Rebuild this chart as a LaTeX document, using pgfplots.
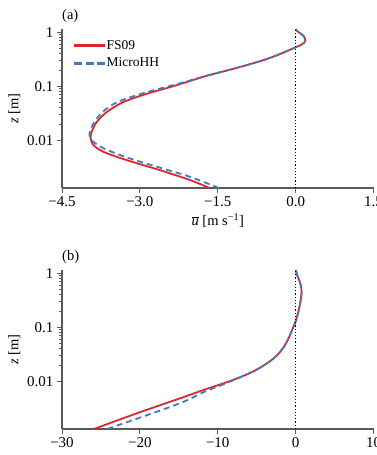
\documentclass[border=0pt]{standalone}
\usepackage{pgfplots}
\pgfplotsset{compat=1.18}
\usepackage{fontspec}
\setmainfont{Liberation Serif}

\definecolor{fsred}{RGB}{222,38,44}
\definecolor{mhblue}{RGB}{66,122,190}
\definecolor{spine}{RGB}{90,90,90}

\newcommand{\lbl}{\fontsize{14.5}{17}\selectfont}
\newcommand{\tck}{\fontsize{15}{17}\selectfont}
\newcommand{\leg}{\fontsize{13.5}{16}\selectfont}

\begin{document}
\begin{tikzpicture}

% (a) mean streamwise velocity
\begin{axis}[
  scale only axis, width=311.5pt, height=159pt,
  at={(62pt,267pt)}, anchor=south west,
  ymode=log, ymin=0.0013, ymax=1.16,
  xmin=-4.5, xmax=1.5,
  axis x line*=bottom, axis y line*=left,
  axis line style={draw=spine, line width=1.3pt},
  tick style={draw=spine, line width=0.9pt},
  tick align=outside,
  major tick length=5pt, minor tick length=3pt,
  ytick={0.01,0.1,1}, yticklabels={0.01,0.1,1},
  xtick={-4.5,-3,-1.5,0,1.5},
  xticklabels={−4.5,−3.0,−1.5,0.0,1.5},
  tick label style={font=\tck},
  label style={font=\lbl},
  ylabel={\textit{z} [m]},
  xlabel={$\overline{\mbox{\textit{u}}}$ [m s\textsuperscript{−1}]},
  clip=false,
  legend style={at={(0,1)}, anchor=north west, xshift=9pt, yshift=-7pt,
    draw=none, fill=none, font=\leg, legend cell align=left,
    row sep=3pt},
]
\addlegendimage{legend image code/.code={\fill[fsred] (0pt,-0.9pt) rectangle (30pt,0.9pt);}}
\addlegendentry{FS09}
\addlegendimage{legend image code/.code={\fill[mhblue] (0pt,-0.9pt) rectangle (7pt,0.9pt)
  (11.5pt,-0.9pt) rectangle (18.5pt,0.9pt) (23pt,-0.9pt) rectangle (30pt,0.9pt);}}
\addlegendentry{MicroHH}
\addplot[fsred, line width=1.8pt, smooth, tension=0.5, forget plot] coordinates {
  (-1.66,0.0013) (-2.03,0.00182) (-2.61,0.00278) (-3.25,0.00427)
  (-3.70,0.00608) (-3.895,0.00813) (-3.946,0.01072) (-3.93,0.01426)
  (-3.83,0.02188) (-3.637,0.03342) (-3.316,0.05129) (-2.864,0.07311)
  (-2.414,0.09705) (-2.10,0.1202) (-1.70,0.1585) (-1.30,0.1995)
  (-0.92,0.2512) (-0.58,0.3162) (-0.30,0.3981) (-0.06,0.5012)
  (0.12,0.5998) (0.19,0.7079) (0.145,0.8750) (0.03,1.0593) (0.0,1.16)
};
\addplot[mhblue, line width=1.8pt, dash pattern=on 6pt off 4pt, smooth, tension=0.5, forget plot] coordinates {
  (-1.48,0.0013) (-2.03,0.00209) (-2.61,0.00309) (-3.25,0.00479)
  (-3.70,0.00708) (-3.93,0.0100) (-3.97,0.0133) (-3.90,0.0200)
  (-3.72,0.0334) (-3.43,0.0513) (-2.97,0.0731) (-2.50,0.0970)
  (-2.14,0.1202) (-1.70,0.1585) (-1.30,0.1995)
  (-0.92,0.2512) (-0.58,0.3162) (-0.30,0.3981) (-0.06,0.5012)
  (0.12,0.5998) (0.19,0.7079) (0.145,0.8750) (0.03,1.0593) (0.0,1.16)
};
\addplot[black, line width=1.2pt, dotted, forget plot] coordinates {(0,0.0013) (0,1.1)};
\end{axis}

% (b) mean spanwise velocity
\begin{axis}[
  scale only axis, width=311.5pt, height=159pt,
  at={(62pt,26pt)}, anchor=south west,
  ymode=log, ymin=0.0013, ymax=1.16,
  xmin=-30, xmax=10,
  axis x line*=bottom, axis y line*=left,
  axis line style={draw=spine, line width=1.3pt},
  tick style={draw=spine, line width=0.9pt},
  tick align=outside,
  major tick length=5pt, minor tick length=3pt,
  ytick={0.01,0.1,1}, yticklabels={0.01,0.1,1},
  xtick={-30,-20,-10,0,10},
  xticklabels={−30,−20,−10,0,10},
  tick label style={font=\tck},
  label style={font=\lbl},
  ylabel={\textit{z} [m]},
  clip=false,
]
\addplot[fsred, line width=1.8pt, smooth, tension=0.5] coordinates {
  (-25.9,0.0013) (-20.3,0.00257) (-14.7,0.0049) (-12.0,0.00676)
  (-9.5,0.00891) (-7.2,0.01175) (-5.2,0.01585) (-3.6,0.02188)
  (-2.4,0.0302) (-1.5,0.0437) (-0.9,0.0631) (-0.4,0.0933)
  (0.0,0.1288) (0.28,0.178) (0.52,0.251) (0.70,0.355)
  (0.76,0.447) (0.70,0.562) (0.52,0.708) (0.25,0.891) (0.0,1.16)
};
\addplot[mhblue, line width=1.8pt, dash pattern=on 6pt off 4pt, smooth, tension=0.5] coordinates {
  (-24.2,0.0013) (-20.3,0.00204) (-14.7,0.00398) (-11.8,0.0063)
  (-9.5,0.0085) (-7.2,0.01175) (-5.2,0.01585) (-3.6,0.02188)
  (-2.4,0.0302) (-1.5,0.0437) (-0.9,0.0631) (-0.4,0.0933)
  (0.0,0.1288) (0.28,0.178) (0.52,0.251) (0.70,0.355)
  (0.76,0.447) (0.70,0.562) (0.52,0.708) (0.25,0.891) (0.0,1.16)
};
\addplot[black, line width=1.2pt, dotted] coordinates {(0,0.0013) (0,1.1)};
\end{axis}

\node[anchor=west, inner sep=0pt, font=\lbl] at (62pt,439pt) {(a)};
\node[anchor=west, inner sep=0pt, font=\lbl] at (62pt,198pt) {(b)};

\pgfresetboundingbox
\path[use as bounding box] (0pt,0pt) rectangle (376pt,455pt);
\end{tikzpicture}
\end{document}
